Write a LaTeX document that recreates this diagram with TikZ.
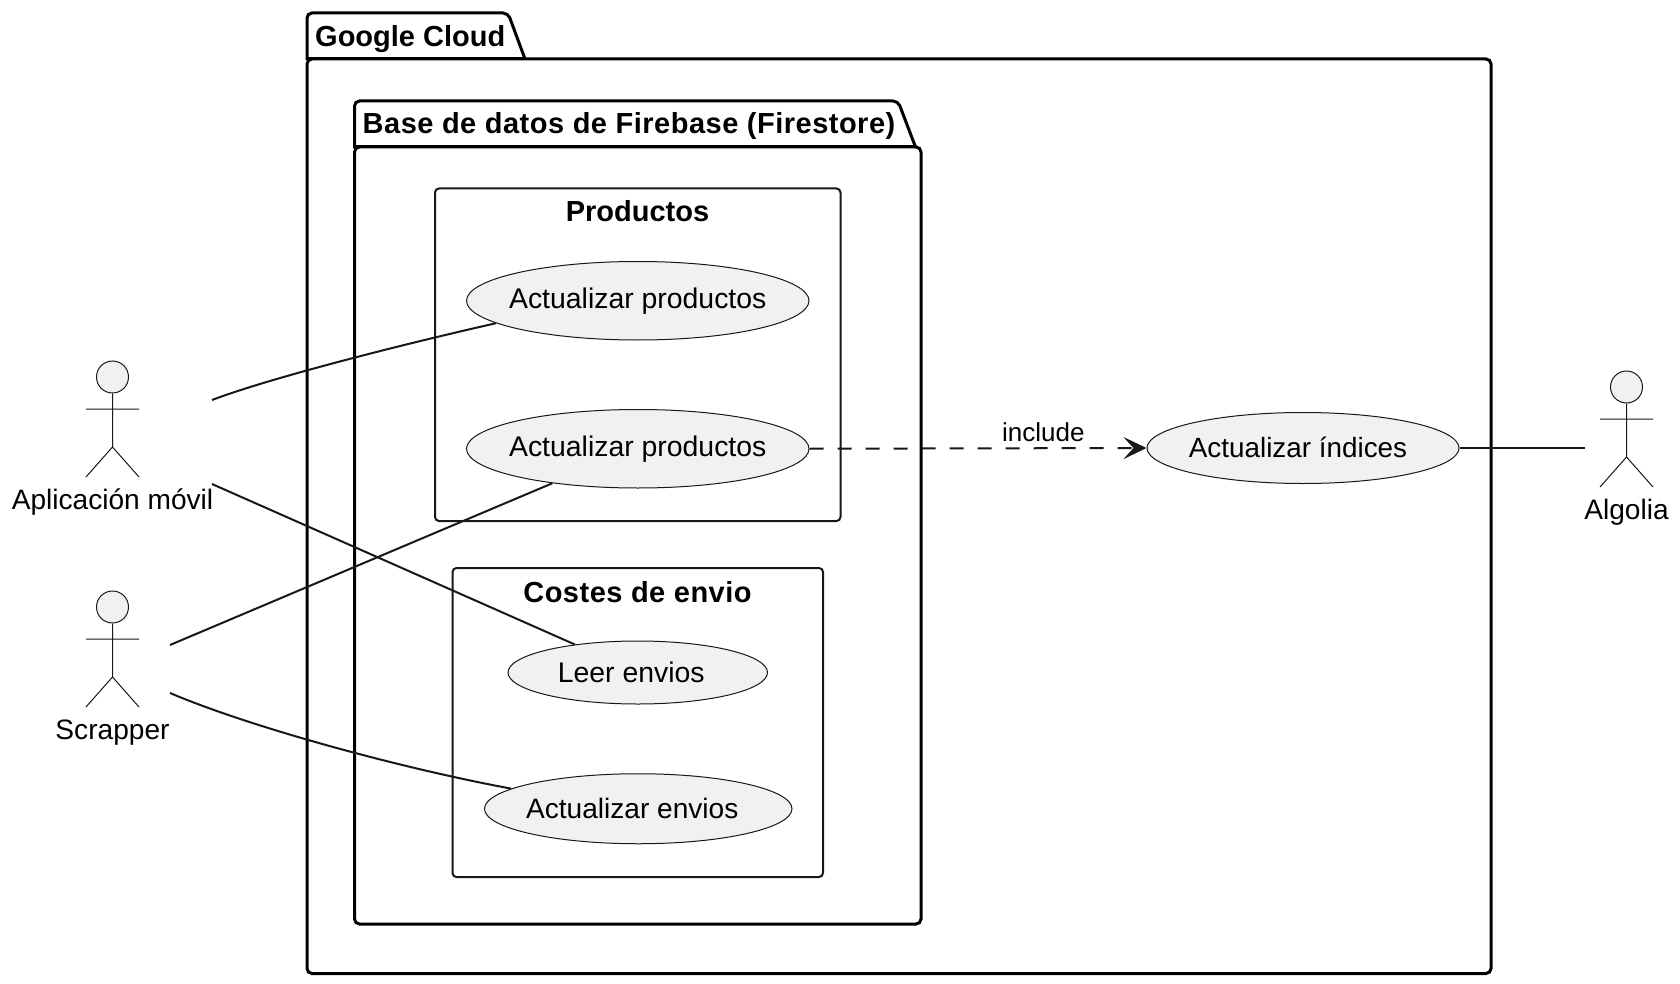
\documentclass[tikz,border=0pt]{standalone}
\usepackage{fontspec}
\setmainfont{Liberation Sans}
\usetikzlibrary{shapes.geometric,arrows.meta}
\definecolor{ink}{HTML}{181818}
\definecolor{usefill}{HTML}{F1F1F1}
\newcommand{\mainsize}{\fontsize{28.4}{30}\selectfont}
\newcommand{\uctext}[1]{\makebox[0pt]{#1}}
\tikzset{
  x=1pt,y=-1pt,
  pkg/.style={draw=black,line width=3pt,rounded corners=5pt},
  pkgedge/.style={draw=black,line width=3pt},
  rect/.style={draw=ink,line width=2pt,rounded corners=4pt},
  pkgtitle/.style={anchor=base west,inner sep=0pt,font=\fontsize{29}{30}\selectfont\bfseries},
  recttitle/.style={anchor=base,inner sep=0pt,font=\fontsize{29}{30}\selectfont\bfseries},
  uc/.style={ellipse,draw=ink,line width=1pt,fill=usefill,inner sep=0pt,font=\mainsize},
  actorlabel/.style={anchor=base,inner sep=0pt,font=\fontsize{28.1}{30}\selectfont},
  head/.style={circle,draw=ink,line width=1pt,fill=usefill,minimum size=32pt,inner sep=0pt},
  limb/.style={draw=ink,line width=1pt},
  link/.style={draw=ink,line width=2pt},
  dep/.style={link,dash pattern=on 14pt off 14pt,-{Stealth[length=23pt,width=22pt,inset=10pt]}},
  deplabel/.style={anchor=base,inner sep=0pt,font=\fontsize{26}{28}\selectfont},
}
\begin{document}
\begin{tikzpicture}
\useasboundingbox (0,0) rectangle (1680,984);
\fill[white] (0,0) rectangle (1680,984);
% packages
\draw[pkg] (307,59) -- (1491,59) -- (1491,973.5) -- (307,973.5) -- cycle;
\draw[pkg] (307,60.5) -- (307,13) -- (508,13) -- (525,59);
\draw[pkgedge] (305.5,59) -- (525,59);
\node[pkgtitle] (gc) at (315,47) {Google Cloud};
\draw[pkg] (354.5,147) -- (921,147) -- (921,924) -- (354.5,924) -- cycle;
\draw[pkg] (354.5,148.5) -- (354.5,101) -- (898,101) -- (915.5,147);
\draw[pkgedge] (353,147) -- (915.5,147);
\node[pkgtitle] (fb) at (362.5,134) {\addfontfeature{LetterSpace=1.7}Base de datos de Firebase (Firestore)};
% rectangles
\draw[rect] (435,188.5) rectangle (840.5,521);
\node[recttitle] (prod) at (637.5,222) {Productos};
\draw[rect] (452.5,568) rectangle (823,877);
\node[recttitle] (cost) at (637.5,602) {\addfontfeature{LetterSpace=1.7}Costes de envio};
% use cases
\node[uc,minimum width=342.5pt,minimum height=78.5pt] (u1) at (637.75,300.75) {\uctext{Actualizar productos}};
\node[uc,minimum width=342.5pt,minimum height=78.5pt] (u2) at (637.75,448.75) {\uctext{Actualizar productos}};
\node[uc,minimum width=259.5pt,minimum height=63pt] (u3) at (637.75,672.5) {\uctext{Leer envios\hspace{13pt}}};
\node[uc,minimum width=307.5pt,minimum height=70pt] (u4) at (638.25,808.75) {\uctext{\raisebox{1pt}{\fontsize{28.1}{30}\selectfont Actualizar envios}\hspace{12pt}}};
\node[uc,minimum width=312pt,minimum height=71pt] (u5) at (1303,448) {\uctext{\raisebox{1pt}{\fontsize{27.85}{30}\selectfont Actualizar índices}\hspace{10pt}}};
% actors
\node[head] (h1) at (112.5,377) {};
\draw[limb] (h1.south) -- (112.5,447) (86,409) -- (139,409) (86,477) -- (112.5,447) -- (139,477);
\node[actorlabel] (a1) at (112.5,509) {Aplicación móvil};
\node[head] (h2) at (112.5,607) {};
\draw[limb] (h2.south) -- (112.5,677) (86,639) -- (139,639) (86,707) -- (112.5,677) -- (139,707);
\node[actorlabel] (a2) at (112.5,739) {Scrapper};
\node[head] (h3) at (1626.5,387) {};
\draw[limb] (h3.south) -- (1626.5,457) (1600,419) -- (1653,419) (1600,487) -- (1626.5,457) -- (1653,487);
\node[actorlabel] (a3) at (1626.5,519) {Algolia};
% connector ends at the actors
\coordinate (m1) at (212,400);
\coordinate (m2) at (212,484);
\coordinate (s1) at (170,645);
\coordinate (s2) at (170,693);
\coordinate (g1) at (1585,448);
% connectors
\draw[link] (m1) .. controls (270,378) and (400,345) .. (u1.189.5);
\draw[link] (m2) -- (u3.156);
\draw[link] (s1) -- (u2.202.3);
\draw[link] (s2) .. controls (250,727) and (400,768) .. (u4.171.5);
\draw[link] (u5.east) -- (g1);
\draw[dep] (u2.east) -- (u5.west) node[deplabel,pos=0.694,yshift=7pt] (inc) {include};
\end{tikzpicture}
\end{document}
